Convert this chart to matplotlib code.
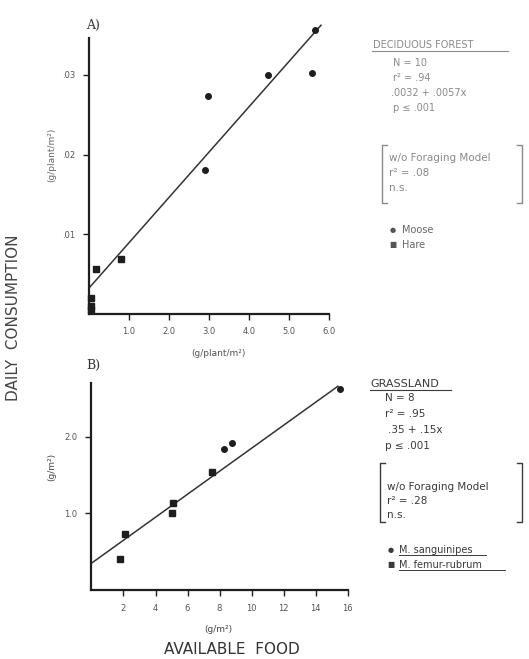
import matplotlib
matplotlib.use("Agg")
import matplotlib.pyplot as plt
from matplotlib.lines import Line2D
import numpy as np

plt.rcParams['font.family'] = ['DejaVu Sans']

# ---- Panel A: deciduous forest (moose and hare) ----
moose_x = [5.65, 5.57, 4.47, 2.98, 2.90]
moose_y = [0.0357, 0.0303, 0.0300, 0.0273, 0.0180]
hare_x = [0.79, 0.17, 0.05, 0.05, 0.05]
hare_y = [0.0069, 0.0056, 0.0019, 0.0010, 0.0004]
fit_a = (0.0032, 0.0057)          # intercept, slope
a_xticks = [1, 2, 3, 4, 5, 6]
a_xlabels = ["1.0", "2.0", "3.0", "4.0", "5.0", "6.0"]
a_yticks = [0.01, 0.02, 0.03]
a_ylabels = [".01", ".02", ".03"]
a_stats = ["N = 10", "r\u00b2 = .94", ".0032 + .0057x", "p \u2264 .001"]
a_null = ["w/o Foraging Model", "r\u00b2 = .08", "n.s."]

# ---- Panel B: grassland (grasshoppers) ----
sang_x = [15.53, 8.80, 8.30]
sang_y = [2.62, 1.92, 1.84]
femur_x = [7.50, 5.10, 5.00, 2.10, 1.78]
femur_y = [1.54, 1.14, 1.00, 0.73, 0.40]
fit_b = (0.35, 0.15)
b_xticks = [2, 4, 6, 8, 10, 12, 14, 16]
b_xlabels = ["2", "4", "6", "8", "10", "12", "14", "16"]
b_yticks = [1.0, 2.0]
b_ylabels = ["1.0", "2.0"]
b_stats = ["N = 8", "r\u00b2 = .95", ".35 + .15x", "p \u2264 .001"]
b_null = ["w/o Foraging Model", "r\u00b2 = .28", "n.s."]

W, H = 529, 659
fig = plt.figure(figsize=(W / 100, H / 100), dpi=100)
fig.patch.set_facecolor("white")

INK = "#1e1e1e"
TXT_A = "#8a8a8a"
TXT_B = "#3a3a3a"


def fx(x):
    return x / W


def fy(y):
    return 1 - y / H


def axes_px(left, right, bottom, top):
    return fig.add_axes([fx(left), fy(bottom), (right - left) / W, (bottom - top) / H])


def style_axes(ax, xmax_spine, ymax_spine):
    for s in ("top", "right"):
        ax.spines[s].set_visible(False)
    for s in ("left", "bottom"):
        ax.spines[s].set_color(INK)
        ax.spines[s].set_linewidth(1.6)
    ax.spines["bottom"].set_bounds(0, xmax_spine)
    ax.spines["left"].set_bounds(0, ymax_spine)
    ax.tick_params(direction="out", length=4, width=1.0, colors=INK,
                   labelsize=6, labelcolor="#555555", pad=6)
    ax.patch.set_alpha(0)


# Panel A axes: x 0..6 over px 89..329 ; y 0..0.0375 over px 313.5..15.5
axA = axes_px(89, 331, 313.5, 313.5 - 0.0375 * 7950)
axA.set_xlim(0, 6.05)
axA.set_ylim(0, 0.0375)
style_axes(axA, 6.0, 0.0347)
axA.set_xticks(a_xticks, a_xlabels)
axA.set_yticks(a_yticks, a_ylabels)
xa = np.array([0, 5.8])
axA.plot(xa, fit_a[0] + fit_a[1] * xa, color="#333333", lw=1.1, clip_on=False)
axA.plot(moose_x, moose_y, "o", ms=4, color=INK, mec=INK, clip_on=False)
axA.plot(hare_x, hare_y, "s", ms=4.2, color=INK, mec=INK, clip_on=False)

# Panel B axes: x 0..16 over px 91.5..347.5 ; y 0..2.95 over px 590..364
axB = axes_px(91.5, 91.5 + 16.1 * 16, 590, 590 - 2.95 * 76.6)
axB.set_xlim(0, 16.1)
axB.set_ylim(0, 2.95)
style_axes(axB, 16, 2.70)
axB.set_xticks(b_xticks, b_xlabels)
axB.set_yticks(b_yticks, b_ylabels)
xb = np.array([0, 15.4])
axB.plot(xb, fit_b[0] + fit_b[1] * xb, color="#333333", lw=1.1, clip_on=False)
axB.plot(sang_x, sang_y, "o", ms=4, color=INK, mec=INK, clip_on=False)
axB.plot(femur_x, femur_y, "s", ms=4.2, color=INK, mec=INK, clip_on=False)


def ftext(x, y, s, **kw):
    kw.setdefault("va", "center")
    kw.setdefault("ha", "left")
    return fig.text(fx(x), fy(y), s, **kw)


def fline(xs, ys, **kw):
    fig.add_artist(Line2D([fx(v) for v in xs], [fy(v) for v in ys],
                          transform=fig.transFigure, **kw))


def bracket(x0, x1, y0, y1, color):
    fline([x0 + 5, x0, x0, x0 + 5], [y0, y0, y1, y1], color=color, lw=1.0)
    fline([x1 - 5, x1, x1, x1 - 5], [y0, y0, y1, y1], color=color, lw=1.0)


# Panel letters
ftext(86, 25, "A)", fontsize=9, color="#333333", family="DejaVu Serif")
ftext(86, 365, "B)", fontsize=9, color="#333333", family="DejaVu Serif")

# Shared axis titles
ftext(14, 318, "DAILY  CONSUMPTION", rotation=90, ha="center", fontsize=11,
      color="#444444")
ftext(232, 649, "AVAILABLE  FOOD", ha="center", fontsize=11, color="#333333")

# Units
ftext(218, 353, "(g/plant/m\u00b2)", ha="center", fontsize=6.5, color="#555555")
ftext(52, 155, "(g/plant/m\u00b2)", ha="center", rotation=90, fontsize=6.5,
      color="#666666")
ftext(218, 630, "(g/m\u00b2)", ha="center", fontsize=6.5, color="#444444")
ftext(52, 467, "(g/m\u00b2)", ha="center", rotation=90, fontsize=6.5,
      color="#444444")

# Panel A annotations
ftext(373, 45, "DECIDUOUS FOREST", fontsize=7, color=TXT_A)
fline([372, 508], [51, 51], color=TXT_A, lw=0.8)
for i, s in enumerate(a_stats):
    ftext(393 if i != 2 else 391, 63 + i * 15, s, fontsize=7, color=TXT_A)
bracket(382, 522, 145, 203, TXT_A)
for i, s in enumerate(a_null):
    ftext(389, 158 + i * 15, s, fontsize=7.5, color=TXT_A)
ftext(393, 230, "\u25cf", fontsize=5, ha="center", color="#555555")
ftext(402, 230, "Moose", fontsize=7, color="#666666")
ftext(393, 245, "\u25a0", fontsize=5.5, ha="center", color="#555555")
ftext(402, 245, "Hare", fontsize=7, color="#666666")

# Panel B annotations
ftext(370, 384, "GRASSLAND", fontsize=8, color=TXT_B)
fline([370, 451], [390, 390], color=TXT_B, lw=0.8)
for i, s in enumerate(b_stats):
    ftext(385 if i != 2 else 388, 398 + i * 16, s, fontsize=7.5, color=TXT_B)
bracket(380, 522, 463, 522, TXT_B)
for i, s in enumerate(b_null):
    ftext(387, 487 + i * 14, s, fontsize=7.5, color=TXT_B)
ftext(391, 550, "\u25cf", fontsize=5, ha="center", color=TXT_B)
ftext(399, 550, "M. sanguinipes", fontsize=7, color=TXT_B)
fline([399, 486], [555, 555], color=TXT_B, lw=0.7)
ftext(391, 565, "\u25a0", fontsize=5.5, ha="center", color=TXT_B)
ftext(399, 565, "M. femur-rubrum", fontsize=7, color=TXT_B)
fline([399, 505], [570, 570], color=TXT_B, lw=0.7)

fig.savefig("out.png", dpi=100, facecolor="white")
